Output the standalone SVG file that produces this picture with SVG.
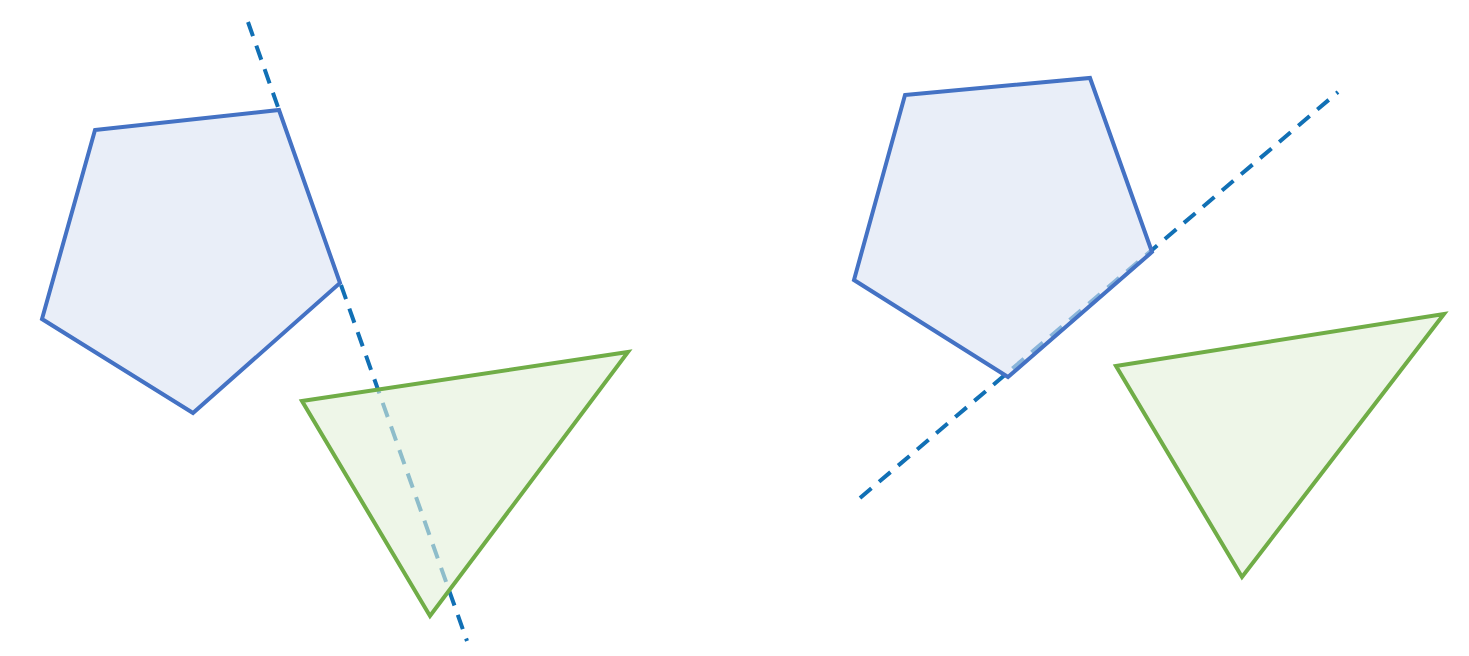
<svg xmlns="http://www.w3.org/2000/svg" width="1469" height="656" viewBox="0 0 1469 656">
<style>
.dash{fill:none;stroke:#1170b5;stroke-width:4;stroke-dasharray:15 10}
.pent{fill:#dae3f3;fill-opacity:0.6;stroke:#4472c4;stroke-width:4;stroke-linejoin:miter}
.tri{fill:#e2f0d9;fill-opacity:0.6;stroke:#70ad47;stroke-width:4;stroke-linejoin:miter}
</style>
<rect width="1469" height="656" fill="#ffffff"/>
<g id="connectors">
<path class="dash" d="M248,22 L279,110 M341,285 L467,641"/>
<line class="dash" x1="860" y1="498" x2="1338" y2="92"/>
</g>
<g id="left-pentagon"><polygon class="pent" points="95,130 279,110 340,283 193,413 42,319"/></g>
<g id="left-triangle"><polygon class="tri" points="302,401 628,352 430,616"/></g>
<g id="right-pentagon"><polygon class="pent" points="905,95 1090,78 1152,252 1008,377 854,280"/></g>
<g id="right-triangle"><polygon class="tri" points="1116,366 1444,314 1242,577"/></g>
</svg>
